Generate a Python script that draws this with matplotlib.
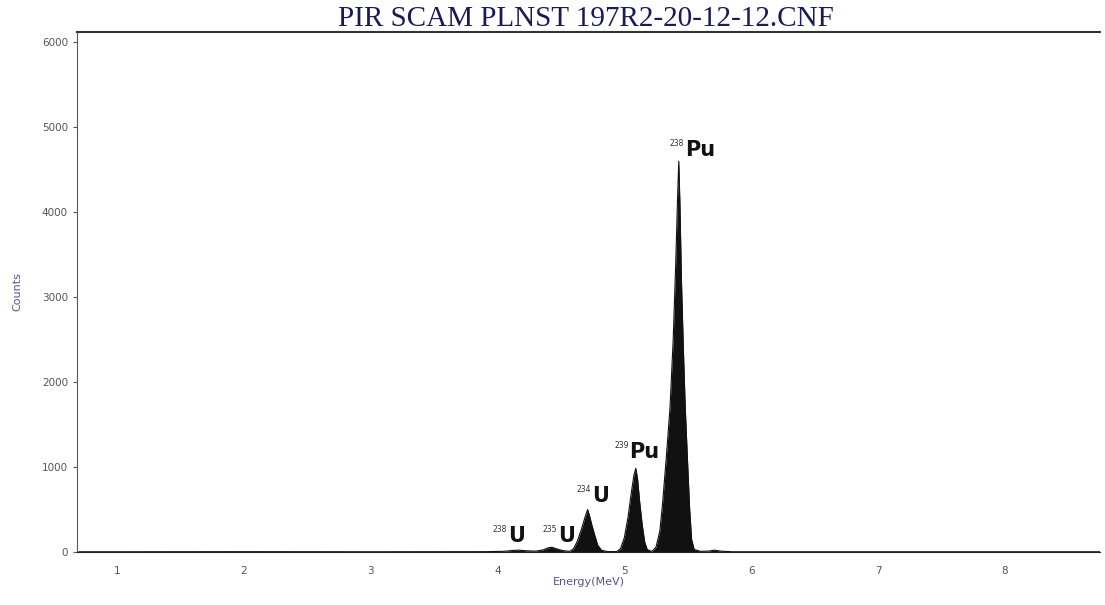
import matplotlib
matplotlib.use("Agg")
import matplotlib.pyplot as plt

# alpha spectrum (energy in MeV, counts)
energy = [0.70, 1.0, 2.0, 3.0, 3.9, 4.05, 4.12, 4.17, 4.22, 4.30, 4.36, 4.40,
          4.43, 4.47, 4.52, 4.57, 4.60, 4.63, 4.66, 4.69, 4.71, 4.725, 4.745,
          4.77, 4.79, 4.82, 4.87, 4.94, 4.97, 5.00, 5.03, 5.055, 5.075, 5.09,
          5.105, 5.12, 5.14, 5.16, 5.18, 5.21, 5.22, 5.25, 5.28, 5.30, 5.33,
          5.36, 5.385, 5.405, 5.42, 5.429, 5.438, 5.45, 5.465, 5.48, 5.50,
          5.515, 5.53, 5.55, 5.60, 5.66, 5.71, 5.76, 5.85, 6.5, 7.5, 8.75]
counts = [3, 3, 4, 3, 4, 8, 18, 22, 15, 10, 25, 50,
          55, 35, 15, 8, 40, 130, 260, 410, 500, 430, 310,
          180, 80, 20, 5, 5, 40, 170, 420, 700, 900, 985,
          850, 600, 330, 120, 30, 10, 10, 60, 250, 550, 1100,
          1700, 2500, 3400, 4200, 4600, 4100, 3200, 2400, 1700, 1000,
          500, 150, 30, 8, 10, 22, 10, 3, 3, 3, 3]

# peak labels
lab_mass = ["238", "235", "234", "239", "238"]
lab_elem = ["U", "U", "U", "Pu", "Pu"]
lab_e = [4.08, 4.475, 4.743, 5.04, 5.476]
lab_c = [118, 118, 588, 1106, 4659]

xticks = [1, 2, 3, 4, 5, 6, 7, 8]
yticks = [0, 1000, 2000, 3000, 4000, 5000, 6000]

fig = plt.figure(figsize=(11.05, 6.05), dpi=100)
ax = fig.add_axes([0.0697, 0.0876, 0.9258, 0.8594])

ax.fill_between(energy, counts, 0, color="#111111", lw=0)
ax.plot(energy, counts, color="#111111", lw=0.8)

for m, el, e, c in zip(lab_mass, lab_elem, lab_e, lab_c):
    ax.text(e, c, el, ha="left", va="baseline", fontsize=15,
            fontweight="bold", color="#111111")
    ax.annotate(m, xy=(e, c), xytext=(-0.5, 7), textcoords="offset points",
                ha="right", va="baseline", fontsize=5.5, color="#333333")

ax.set_xlim(0.685, 8.75)
ax.set_ylim(0, 6120)
ax.set_xticks(xticks)
ax.set_yticks(yticks)
ax.tick_params(axis="both", labelsize=7.5, colors="#555555", length=3)
ax.tick_params(axis="x", length=0, pad=10)

ax.spines["left"].set_color("#4a55a0")
ax.spines["top"].set_color("#333333")
ax.spines["top"].set_linewidth(1.5)
ax.spines["bottom"].set_color("#222222")
ax.spines["right"].set_visible(False)

ax.set_xlabel("Energy(MeV)", fontsize=8, color="#555588", labelpad=1)
ax.set_ylabel("Counts", fontsize=8, color="#555588", labelpad=14)

fig.suptitle("PIR SCAM PLNST 197R2-20-12-12.CNF", fontsize=21,
             family="Liberation Serif", color="#1a1a5a", x=0.53, y=0.99)

fig.savefig("out.png", dpi=100)
